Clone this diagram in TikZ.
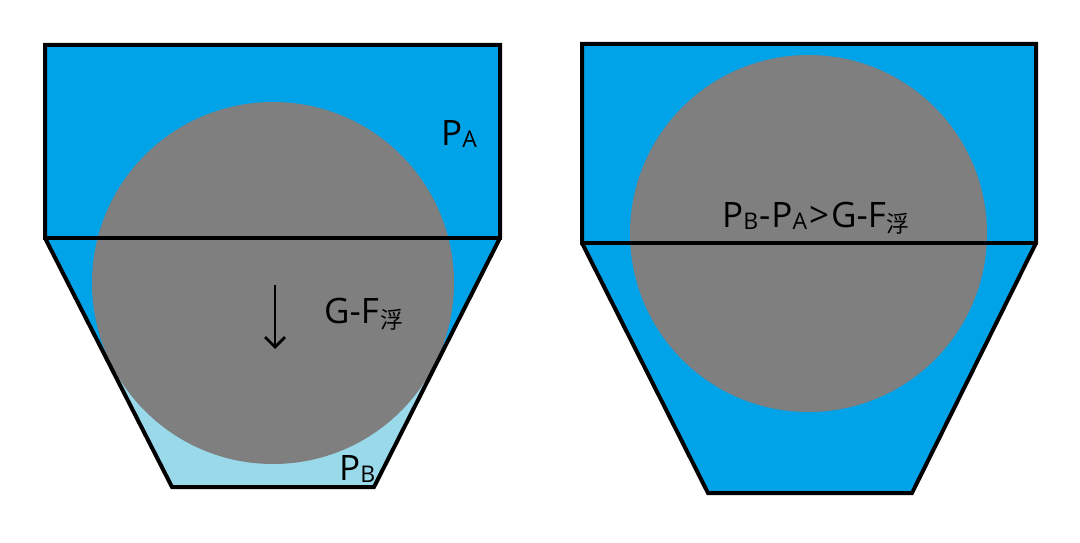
\documentclass[tikz,border=0pt]{standalone}
\usepackage{fontspec}
\setmainfont{Open Sans}
\newfontfamily\cjk{Noto Sans CJK SC}
\usetikzlibrary{arrows.meta}
\definecolor{water}{RGB}{0,162,232}
\definecolor{lightwater}{RGB}{153,217,234}
\definecolor{ballgray}{RGB}{127,127,127}
\newcommand{\lowsub}[1]{\raisebox{-2pt}{\fontsize{23}{23}\selectfont #1}}
\newcommand{\fusub}{\kern1pt\raisebox{-5pt}{\fontsize{23}{23}\selectfont\cjk 浮}}
\tikzset{
  outline/.style={line width=4pt, line join=miter, line cap=rect},
  lbl/.style={inner sep=0pt, anchor=base west, font=\fontsize{35}{35}\selectfont},
  force/.style={line width=2.8pt, -{Straight Barb[length=10pt,width=20pt,line width=2.8pt]}},
}
\begin{document}
\begin{tikzpicture}[x=1pt,y=-1pt]
\useasboundingbox (0,0) rectangle (1080,543);
\fill[white] (0,0) rectangle (1080,543);
% ---------- left vessel ----------
\fill[water] (45,45) rectangle (500,238);
\fill[lightwater] (45,238) -- (500,238) -- (374,487) -- (172,487) -- cycle;
\begin{scope}
  \clip (45,238) -- (500,238) -- (374,487) -- (172,487) -- cycle;
  \fill[water] (0,230) rectangle (1080,365);
\end{scope}
\fill[ballgray] (273,283) circle (181);
\draw[outline] (45,45) -- (500,45) -- (500,238) -- (374,487) -- (172,487) -- (45,238) -- cycle;
\draw[outline] (45,238) -- (500,238);
\coordinate (a1) at (275,285);
\coordinate (a2) at (275,349);
\draw[force] (a1) -- (a2);
\node[lbl] (pa) at (441,145) {P\lowsub{A}};
\node[lbl] (gf) at (324,323) {G-F\fusub};
\node[lbl] (pb) at (339,480) {P\lowsub{B}};
% ---------- right vessel ----------
\fill[water] (582,44) rectangle (1036,243);
\fill[water] (582,243) -- (1036,243) -- (912,493) -- (708,493) -- cycle;
\fill[ballgray] (808.5,233.5) circle (178.5);
\draw[outline] (582,44) -- (1036,44) -- (1036,243) -- (912,493) -- (708,493) -- (582,243) -- cycle;
\draw[outline] (582,243) -- (1036,243);
\node[lbl] (eq) at (722,227) {P\lowsub{B}\kern1pt-\kern1ptP\lowsub{A}\kern2pt>\kern2ptG-F\fusub};
\end{tikzpicture}
\end{document}
